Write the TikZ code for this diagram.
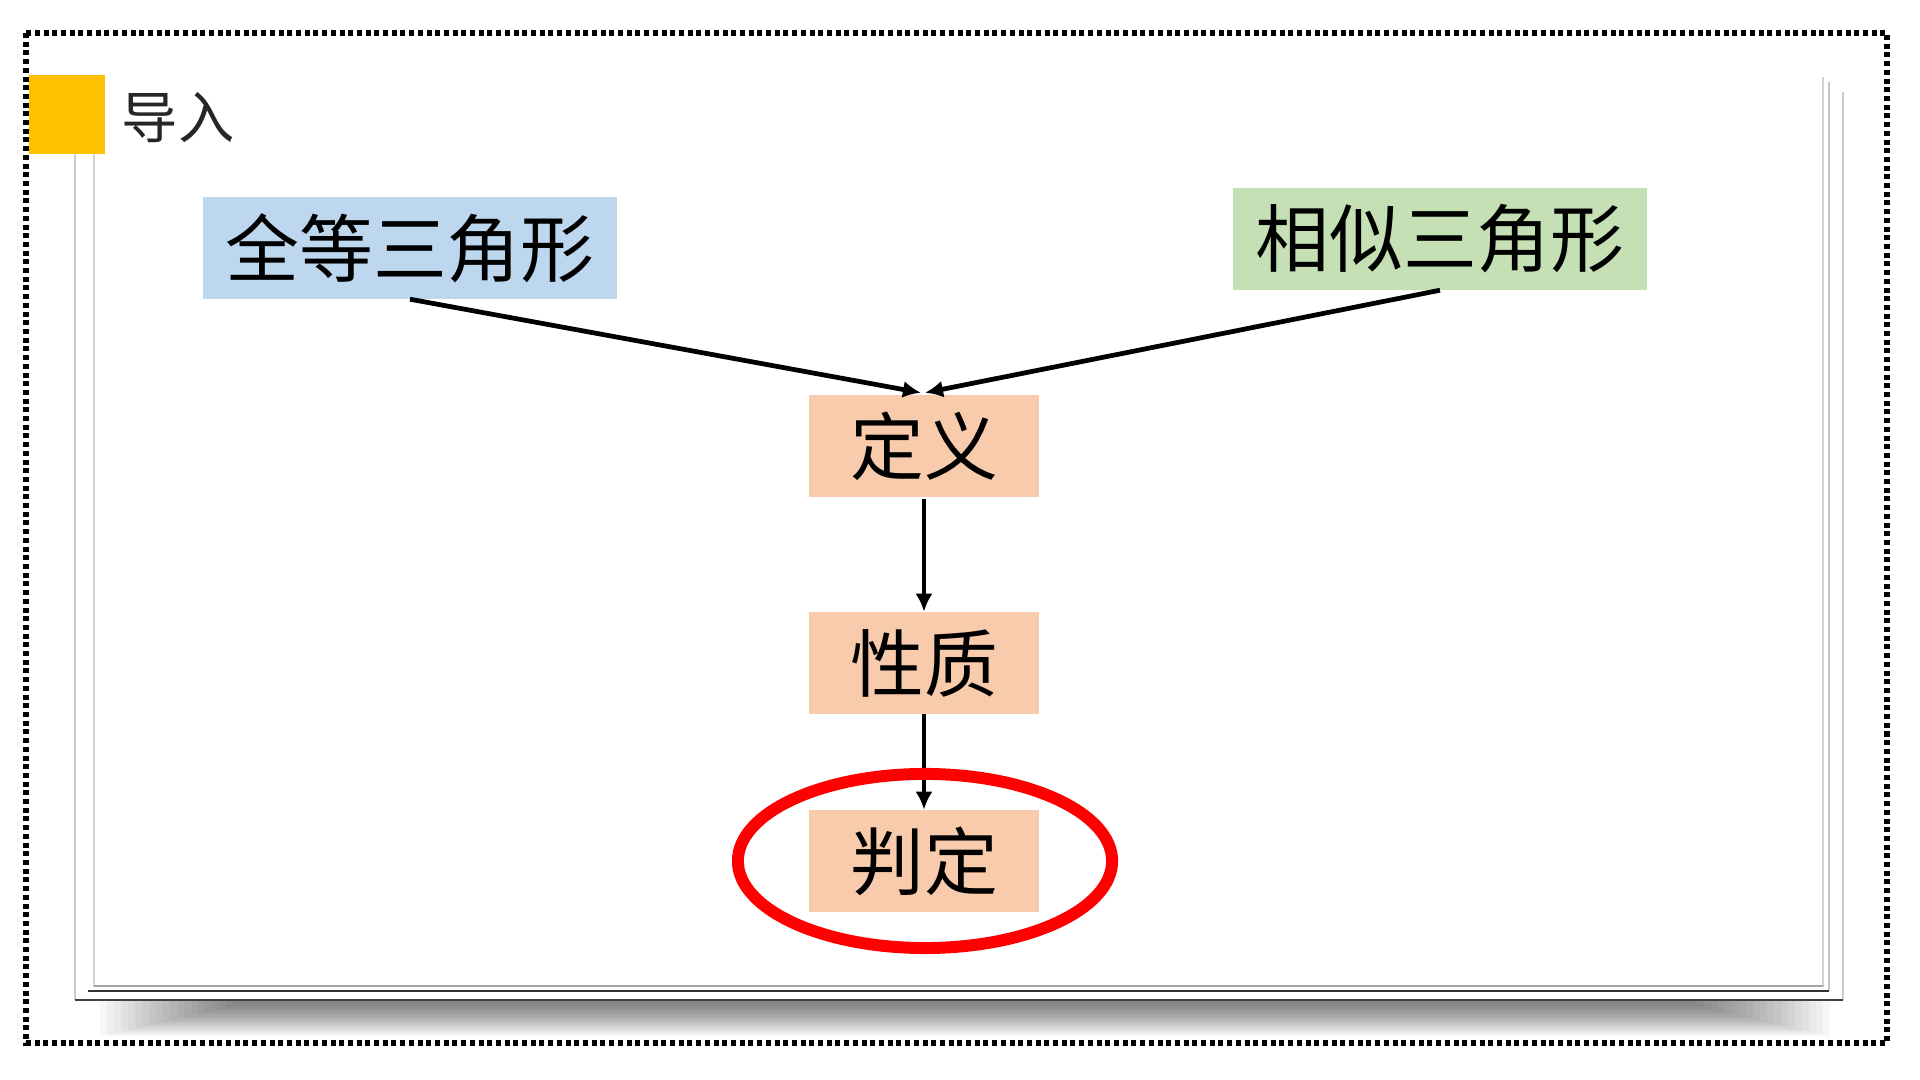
\documentclass[tikz,border=0pt]{standalone}
\usepackage{fontspec}
\setmainfont{Noto Sans CJK SC}
\newfontfamily\cjk{Noto Sans CJK SC}
\usetikzlibrary{arrows.meta}
\definecolor{ink}{HTML}{000000}
\definecolor{titleink}{HTML}{262626}
\definecolor{sky}{HTML}{BDD7EE}
\definecolor{leaf}{HTML}{C5E0B4}
\definecolor{peach}{HTML}{F8CBAD}
\definecolor{amber}{HTML}{FFC000}
\definecolor{ringred}{HTML}{FF0000}
\definecolor{edge}{HTML}{8C8C8C}

\begin{document}
\begin{tikzpicture}[x=0.01cm,y=-0.01cm,font=\cjk,text=ink,>={Latex[length=1.8mm,width=1.7mm]},
  box/.style={inner sep=0pt,minimum height=1.01cm,font=\cjk\fontsize{21pt}{25pt}\selectfont},
  flow/.style={->,line width=1.35pt,ink},
  frameline/.style={edge,line width=0.6pt}]
  \useasboundingbox (0,0) rectangle (1920,1080);
  % page shadow and frame
  \foreach \i in {0,...,19}
    \fill[black,opacity=0.03] (100+\i*7,1001) rectangle (1830-\i*7,1036-\i*1.6);
  \draw[frameline,edge!45] (75,154) -- (75,1000);
  \draw[frameline,edge!45] (1843,92) -- (1843,1000);
  \draw[frameline,black!75] (75,1000) -- (1843,1000);
  \draw[frameline,edge!50] (1829,82) -- (1829,991);
  \draw[frameline,black!80] (88,991) -- (1829,991);
  \draw[frameline,edge!40] (94,154) -- (94,986) -- (1823,986) -- (1823,77);
  \draw[frameline,edge!80] (94,986) -- (1823,986);
  % dotted outer border
  \draw[ink,line width=1.7pt,dash pattern=on 0.05cm off 0.037cm] (26,33) rectangle (1887,1043);
  % title
  \fill[amber] (29,75) rectangle (105,154);
  \node[text=titleink,font=\cjk\fontsize{16pt}{19pt}\selectfont] (title) at (178,118) {导入};
  % boxes
  \node[box,fill=sky,minimum width=4.13cm] (quandeng) at (410,248) {全等三角形};
  \node[box,fill=leaf,minimum width=4.13cm] (xiangsi) at (1440,239) {相似三角形};
  \node[box,fill=peach,minimum width=2.29cm] (dingyi) at (924,446) {定义};
  \node[box,fill=peach,minimum width=2.29cm] (xingzhi) at (924,663) {性质};
  \node[box,fill=peach,minimum width=2.29cm] (panding) at (924,861) {判定};
  % connectors
  \draw[flow] (quandeng.south) -- ([xshift=-0.03cm,yshift=0.02cm]dingyi.north);
  \draw[flow] (xiangsi.south) -- ([xshift=0.01cm,yshift=0.02cm]dingyi.north);
  \draw[flow] ([yshift=-0.02cm]dingyi.south) -- (xingzhi.north);
  \draw[flow] (xingzhi.south) -- (panding.north);
  % highlight
  \draw[ringred,line width=3.4pt] ([xshift=0.01cm]panding.center) ellipse (1.87cm and 0.87cm);
\end{tikzpicture}
\end{document}
